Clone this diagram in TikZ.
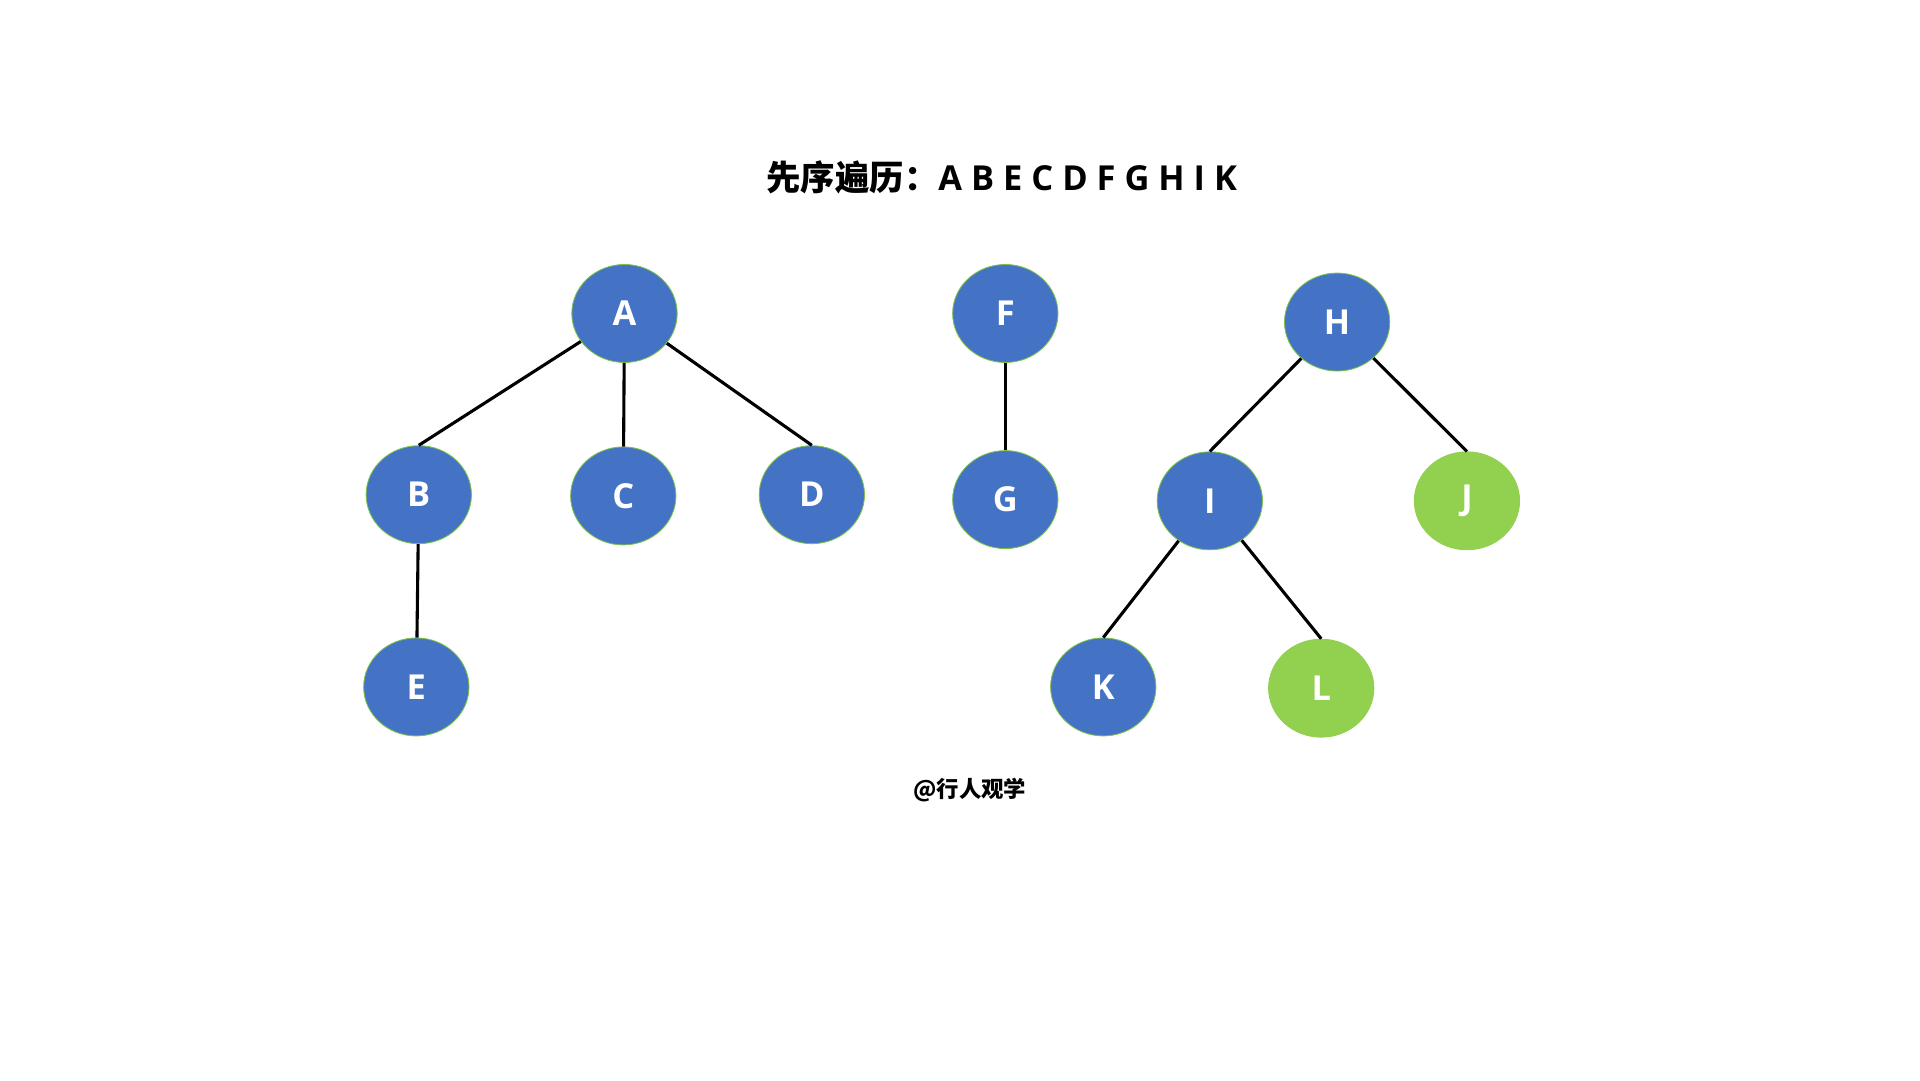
\documentclass[tikz,border=0pt]{standalone}
\usepackage{fontspec}
\setmainfont{Open Sans}
\newfontfamily\cjk{Noto Sans CJK SC}
\usetikzlibrary{shapes.geometric}
\definecolor{nblue}{HTML}{4472C4}
\definecolor{ngreen}{HTML}{92D050}
\definecolor{nedge}{HTML}{7CC04A}
\tikzset{
 tn/.style={ellipse,draw=nedge,line width=1pt,fill=nblue,minimum width=86*0.05cm,minimum height=80*0.05cm,inner sep=0pt,text=white,font=\fontsize{40}{44}\selectfont\bfseries},
 gn/.style={tn,fill=ngreen,draw=ngreen},
 ed/.style={line width=3.6pt,black}
}
\begin{document}
\begin{tikzpicture}[x=0.05cm,y=-0.05cm]
\useasboundingbox[fill=white] (0,0) rectangle (1568,882);
\node[font=\fontsize{40}{44}\selectfont\bfseries] (t) at (818,145) {{\cjk 先序遍历：}A B E C D F G H I K};
\node[font=\fontsize{26}{30}\selectfont\bfseries\cjk] (f) at (792,645) {@行人观学};
\node[tn] (A) at (510,256) {A};
\node[tn] (B) at (342,404) {B};
\node[tn] (C) at (509,405) {C};
\node[tn] (D) at (663,404) {D};
\node[tn] (E) at (340,561) {E};
\node[tn] (F) at (821,256) {F};
\node[tn] (G) at (821,408) {G};
\node[tn] (H) at (1092,263) {H};
\node[tn] (I) at (988,409) {I};
\node[gn] (J) at (1198,409) {J};
\node[tn] (K) at (901,561) {K};
\node[gn] (L) at (1079,562) {L};
\draw[ed] (A) -- (B.north);
\draw[ed] (A) -- (C);
\draw[ed] (A) -- (D.north);
\draw[ed] (B) -- (E);
\draw[ed] (F) -- (G);
\draw[ed] (H) -- (I.north);
\draw[ed] (H) -- (J.north);
\draw[ed] (I) -- (K.north);
\draw[ed] (I) -- (L.north);
\end{tikzpicture}
\end{document}
